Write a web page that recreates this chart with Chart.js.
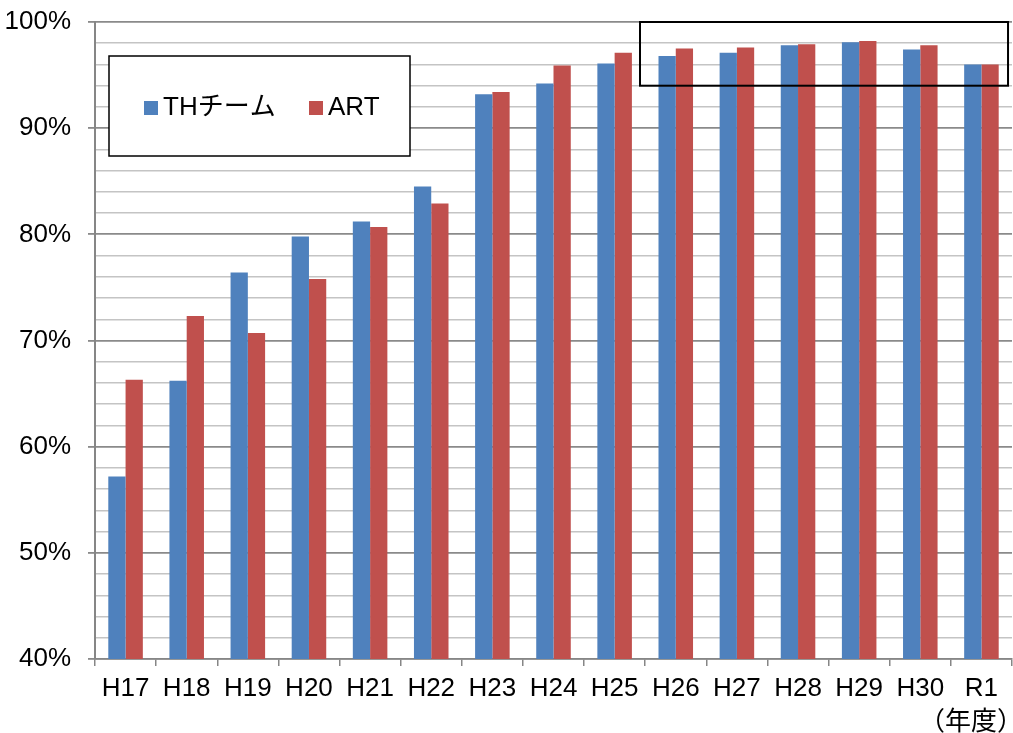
<!DOCTYPE html>
<html>
<head>
<meta charset="utf-8">
<script src="https://cdn.jsdelivr.net/npm/chart.js@4"></script>
<style>
html,body{margin:0;padding:0;background:#fff;}
#wrap{width:1013px;height:733px;position:relative;}
</style>
</head>
<body>
<div id="wrap"><canvas id="c" width="1013" height="733"></canvas></div>
<script>
const categories = ['H17','H18','H19','H20','H21','H22','H23','H24','H25','H26','H27','H28','H29','H30','R1'];
const thTeam = [57.2, 66.2, 76.4, 79.8, 81.2, 84.5, 93.2, 94.2, 96.1, 96.8, 97.1, 97.8, 98.1, 97.4, 96.0];
const art    = [66.3, 72.3, 70.7, 75.8, 80.7, 82.9, 93.4, 95.9, 97.1, 97.5, 97.6, 97.9, 98.2, 97.8, 96.0];
const seriesNames = ['THチーム', 'ART'];
const seriesColors = ['#4F81BD', '#C0504D'];
const yMin = 40, yMax = 100, yStep = 2, yLabelStep = 10;
const unitLabel = '（年度）';
// highlighted region (category index range, value range)
const hiliteFrom = 8.915, hiliteTo = 14.935, hiliteYMin = 94, hiliteYMax = 100;

const FONT = "'Liberation Sans', Arial, 'Noto Sans CJK JP', sans-serif";

const overlay = {
  id: 'overlay',
  afterDraw(chart) {
    const ctx = chart.ctx;
    const xs = chart.scales.x, ys = chart.scales.y;
    const ca = chart.chartArea;
    const cw = (xs.right - xs.left) / categories.length;
    ctx.save();
    // highlight rectangle
    const hx1 = xs.left + hiliteFrom * cw, hx2 = xs.left + hiliteTo * cw;
    const hy1 = ys.getPixelForValue(hiliteYMax), hy2 = ys.getPixelForValue(hiliteYMin);
    ctx.strokeStyle = '#000';
    ctx.lineWidth = 2;
    ctx.strokeRect(hx1, hy1, hx2 - hx1, hy2 - hy1);
    // legend box
    const lx = ca.left + 14, ly = ca.top + 34, lw = 301, lh = 100;
    ctx.fillStyle = '#fff';
    ctx.fillRect(lx, ly, lw, lh);
    ctx.lineWidth = 1.5;
    ctx.strokeRect(lx, ly, lw, lh);
    ctx.font = '26px ' + FONT;
    ctx.textBaseline = 'middle';
    ctx.textAlign = 'left';
    const itemX = [lx + 35, lx + 200];
    const cy = ly + 51;
    for (let i = 0; i < seriesNames.length; i++) {
      ctx.fillStyle = seriesColors[i];
      ctx.fillRect(itemX[i], cy - 6, 14, 14);
      ctx.fillStyle = '#000';
      ctx.fillText(seriesNames[i], itemX[i] + 19, cy + 1);
    }
    // unit label
    ctx.font = '26px ' + FONT;
    ctx.textAlign = 'right';
    ctx.textBaseline = 'alphabetic';
    ctx.fillStyle = '#000';
    ctx.fillText(unitLabel, 1023, 730);
    ctx.restore();
  }
};

new Chart(document.getElementById('c'), {
  type: 'bar',
  data: {
    labels: categories,
    datasets: [
      { label: seriesNames[0], data: thTeam, backgroundColor: seriesColors[0], borderWidth: 0 },
      { label: seriesNames[1], data: art, backgroundColor: seriesColors[1], borderWidth: 0 }
    ]
  },
  options: {
    responsive: false,
    animation: false,
    devicePixelRatio: 1,
    layout: { padding: { top: 22, right: 1, left: 0, bottom: 0 } },
    datasets: { bar: { categoryPercentage: 0.565, barPercentage: 1.0 } },
    plugins: { legend: { display: false }, tooltip: { enabled: false } },
    scales: {
      x: {
        grid: { offset: true, drawOnChartArea: false, tickLength: 7, color: '#868686', lineWidth: 1.5 },
        border: { color: '#868686', width: 1.5 },
        ticks: { color: '#000', font: { size: 26, family: FONT }, padding: 7, maxRotation: 0, autoSkip: false },
        afterFit(a) { a.height = 74; a.paddingLeft = 0; a.paddingRight = 0; }
      },
      y: {
        min: yMin, max: yMax,
        grid: {
          color: c => (c.tick && c.tick.value % yLabelStep === 0) ? '#8a8a8a' : '#c4c4c4',
          lineWidth: c => (c.tick && c.tick.value % yLabelStep === 0) ? 1.8 : 1.5,
          tickColor: c => (c.tick && c.tick.value % yLabelStep === 0) ? '#8a8a8a' : 'rgba(0,0,0,0)',
          tickLength: 7
        },
        border: { color: '#868686', width: 2 },
        ticks: {
          stepSize: yStep, color: '#000', padding: 17, autoSkip: false,
          font: { size: 26, family: FONT },
          callback: v => (v % yLabelStep === 0) ? v + '%' : ''
        },
        afterFit(a) { a.width = 95; a.paddingTop = 0; a.paddingBottom = 0; }
      }
    }
  },
  plugins: [overlay]
});
</script>
</body>
</html>
